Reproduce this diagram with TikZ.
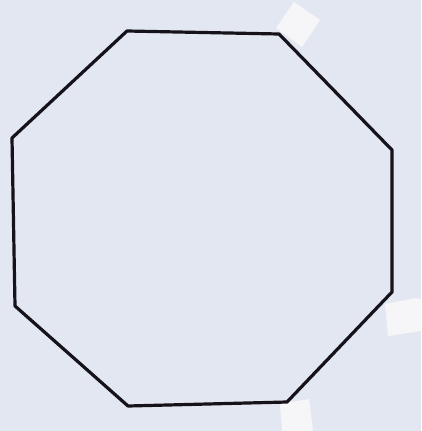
\documentclass[tikz,border=0pt]{standalone}
\definecolor{paper}{RGB}{227,231,241}
\definecolor{tape}{RGB}{246,246,248}
\definecolor{ink}{RGB}{22,18,26}
\begin{document}
\begin{tikzpicture}[x=1pt,y=-1pt,
  edge/.style={draw=ink,line width=3.2pt,line cap=round,line join=round},
  tapepiece/.style={fill=tape,draw=none}]
\fill[paper] (0,0) rectangle (421,431);
\useasboundingbox (0,0) rectangle (421,431);
% tape pieces
\fill[tapepiece] (276,28) -- (294,2) -- (320,20) -- (302,47) -- cycle;
\fill[tapepiece] (385,304) -- (416,298) -- (421,299) -- (421,331) -- (388,336) -- cycle;
\fill[tapepiece] (280,404) -- (309,399) -- (313,431) -- (282,431) -- cycle;
% vertices
\coordinate (v1) at (127,31);
\coordinate (v2) at (279,34);
\coordinate (v3) at (392,150);
\coordinate (v4) at (392,292);
\coordinate (v5) at (287,402);
\coordinate (v6) at (128,406);
\coordinate (v7) at (15,306);
\coordinate (v8) at (12,138);
\draw[edge] (v1) -- (v2) -- (v3) -- (v4) -- (v5) -- (v6) -- (v7) -- (v8) -- cycle;
\end{tikzpicture}
\end{document}
